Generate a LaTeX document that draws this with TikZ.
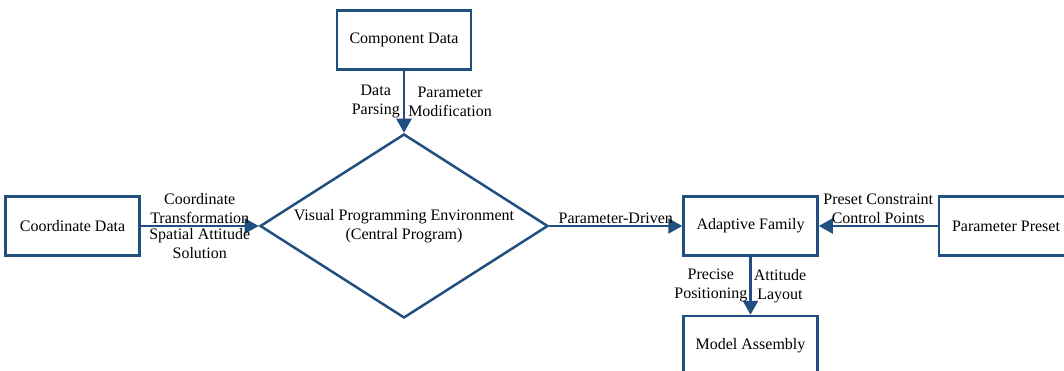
\documentclass[tikz,border=0pt]{standalone}
\usepackage{fontspec}
\setmainfont{Liberation Serif}
\usetikzlibrary{arrows.meta,shapes.geometric}
\definecolor{lineblue}{RGB}{33,80,128}
\begin{document}
\begin{tikzpicture}[x=1pt,y=-1pt,
  every node/.style={font=\fontsize{16}{19}\selectfont, text=black},
  box/.style={draw=lineblue, line width=2.5pt, rectangle, minimum width=134pt, minimum height=59pt, inner sep=0pt},
  dia/.style={draw=lineblue, line width=2.5pt, diamond, aspect=1.565, minimum width=288pt, minimum height=184pt, inner sep=0pt, align=center},
  arr/.style={draw=lineblue, line width=2.5pt, -{Triangle[length=14pt,width=15pt]}},
  lab/.style={align=center, inner sep=1pt}
]
\useasboundingbox (0,0) rectangle (1064,371);
\clip (0,0) rectangle (1064,371);
\node[box] (comp) at (404,40) {Component Data};
\node[dia] (diam) at (404,226) {Visual Programming Environment\\(Central Program)};
\node[box] (coord) at (72.5,226) {Coordinate Data};
\node[box] (adapt) at (750.5,226) {Adaptive Family};
\node[box] (preset) at (1006,226) {Parameter Preset};
\node[box] (model) at (750.5,345.5) {Model Assembly};

\draw[arr] (coord) -- (diam)
  node[lab, midway, above, inner sep=0pt, yshift=1pt] {Coordinate\\Transformation}
  node[lab, midway, below, inner sep=0pt, yshift=-1pt] {Spatial Attitude\\Solution};
\draw[arr] (comp) -- (diam.north)
  node[lab, pos=0.5, left, xshift=-2pt] {Data\\Parsing}
  node[lab, pos=0.5, right, xshift=2pt] {Parameter\\Modification};
\draw[arr] (diam.east) -- (adapt)
  node[lab, midway, above, inner sep=0pt, yshift=1pt] {Parameter-Driven};
\draw[arr] (preset) -- (adapt)
  node[lab, midway, above, inner sep=0pt, yshift=1pt] {Preset Constraint\\Control Points};
\draw[arr] (adapt) -- (model)
  node[lab, midway, left, xshift=-1pt] {Precise\\Positioning}
  node[lab, midway, right, xshift=1pt] {Attitude\\Layout};
\end{tikzpicture}
\end{document}
